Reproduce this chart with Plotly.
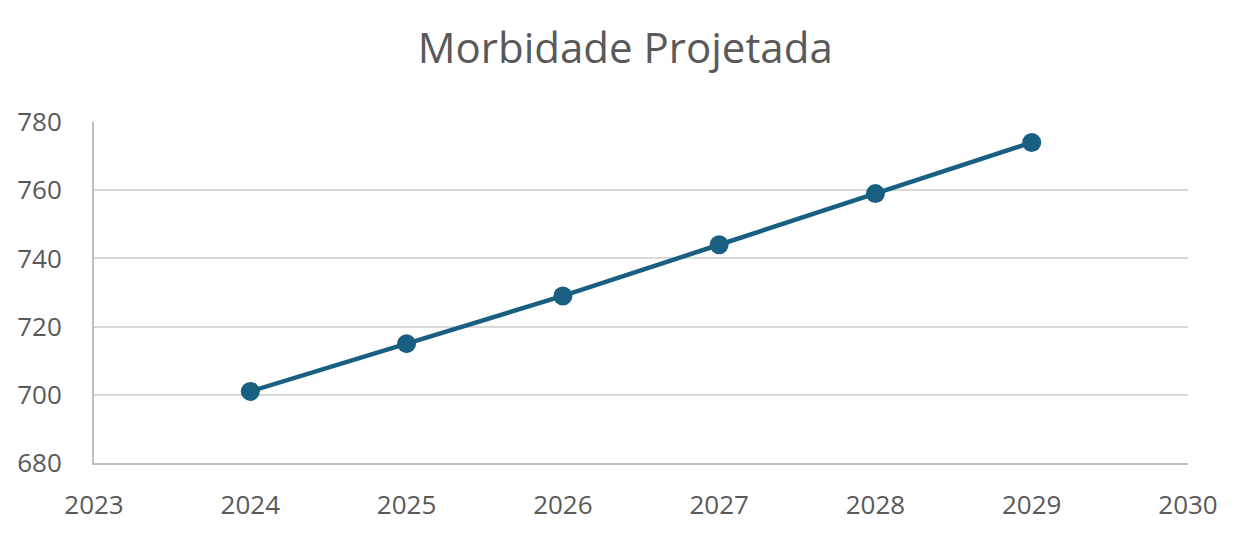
import plotly.graph_objects as go

years = [2024, 2025, 2026, 2027, 2028, 2029]
morbidade = [701, 715, 729, 744, 759, 774]
x_ticks = [2023, 2024, 2025, 2026, 2027, 2028, 2029, 2030]
y_ticks = [680, 700, 720, 740, 760, 780]

fig = go.Figure()
fig.add_trace(go.Scatter(
    x=years, y=morbidade, mode="lines+markers",
    line=dict(color="#185F82", width=4.5),
    marker=dict(color="#185F82", size=19),
    cliponaxis=False,
))

font_family = "Open Sans, Liberation Sans, sans-serif"
fig.update_layout(
    width=1247, height=538,
    margin=dict(l=86, r=67, t=114, b=83),
    paper_bgcolor="white", plot_bgcolor="white",
    showlegend=False,
    title=dict(text="Morbidade Projetada", x=0.495, xanchor="center",
               y=0.926, yanchor="middle",
               font=dict(family=font_family, size=42, color="#595959")),
    font=dict(family=font_family, color="#595959"),
)
fig.update_xaxes(
    range=[2023, 2030], tickvals=x_ticks, ticktext=[str(v) for v in x_ticks],
    showgrid=False, zeroline=False, automargin=False,
    showline=True, linecolor="#BFBFBF", linewidth=2,
    ticks="", ticklabelstandoff=18,
    tickfont=dict(size=26, color="#595959", family=font_family),
)
fig.update_yaxes(
    range=[680, 780], tickvals=y_ticks, ticktext=[str(v) for v in y_ticks],
    showgrid=True, gridcolor="#D9D9D9", gridwidth=2, zeroline=False,
    automargin=False,
    showline=True, linecolor="#BFBFBF", linewidth=2,
    ticks="", ticklabelstandoff=25,
    tickfont=dict(size=26, color="#595959", family=font_family),
)
fig.write_html("out.html")
